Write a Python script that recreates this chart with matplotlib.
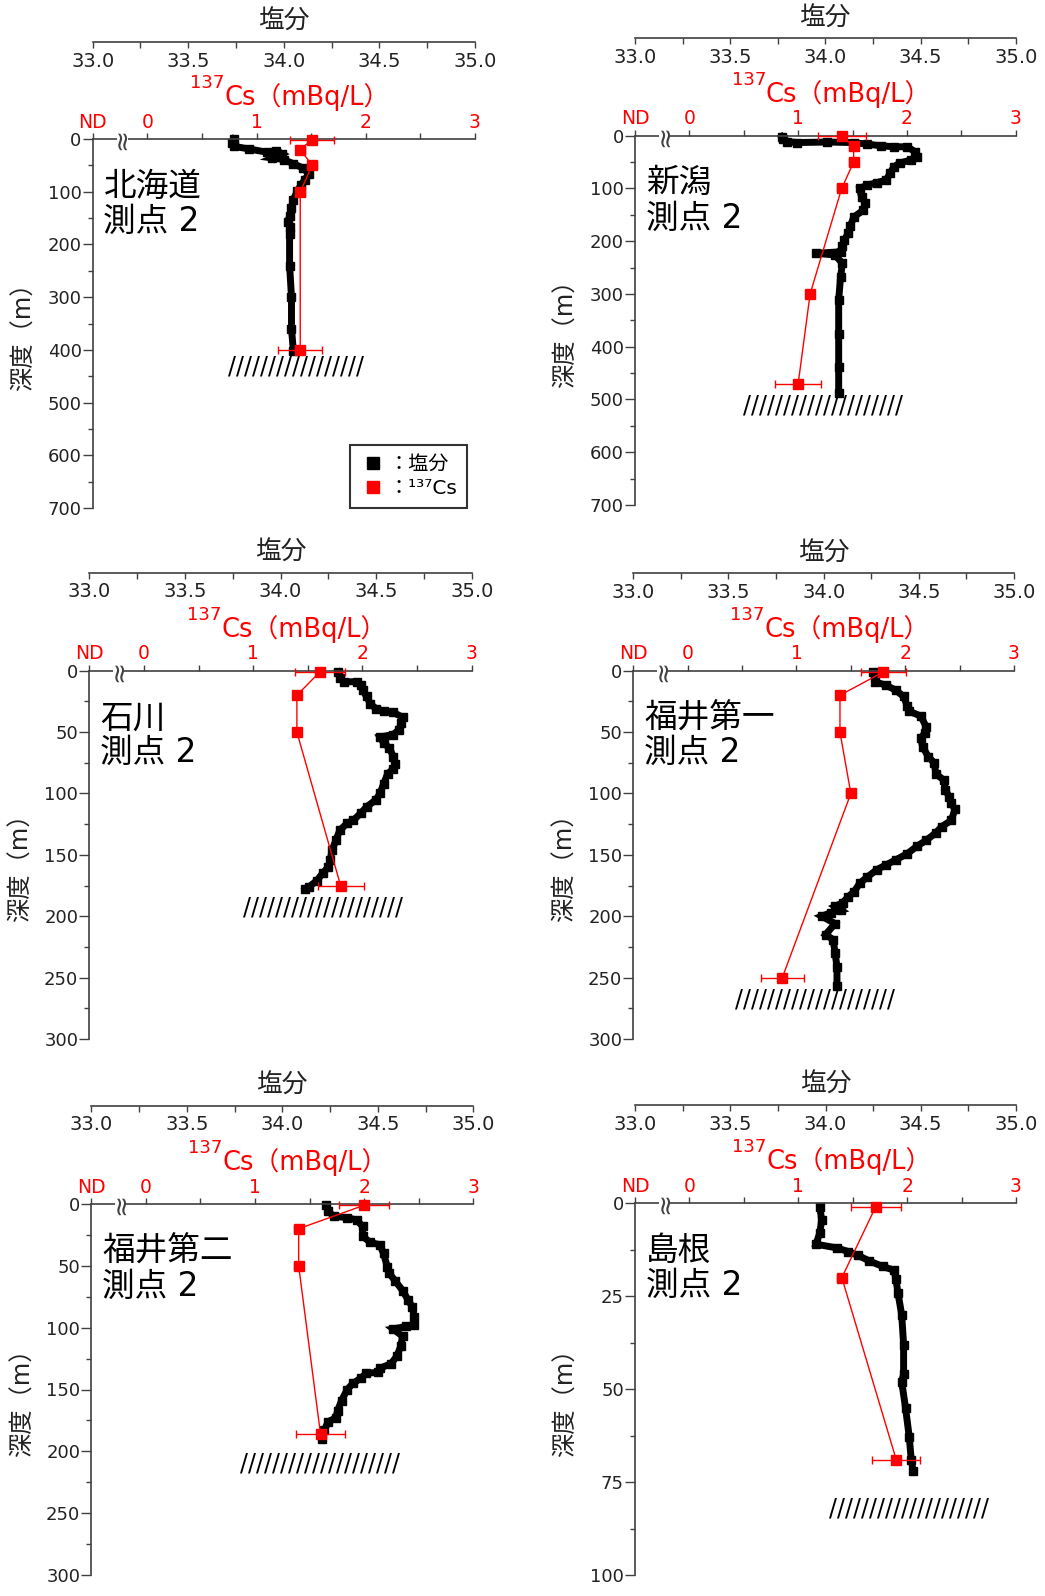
import matplotlib
matplotlib.use('Agg')
import matplotlib.pyplot as plt
from matplotlib.lines import Line2D
from matplotlib.patches import Rectangle
from matplotlib.ticker import MultipleLocator, FixedLocator, FormatStrFormatter
import matplotlib.transforms as mtransforms

plt.rcParams['font.family'] = ['DejaVu Sans', 'Noto Sans CJK JP']

# ---------------- data ----------------
station_names = ['北海道', '新潟', '石川', '福井第一', '福井第二', '島根']
depth_max = [700, 700, 300, 300, 300, 100]
depth_step = [100, 100, 50, 50, 50, 25]

# salinity profiles (depth m, salinity)
hok_sal_depth = [0, 7, 14, 19, 25, 22, 28, 36, 39, 47, 55, 66, 77, 87, 99, 115, 130, 147, 157, 166, 180, 240, 300, 360, 403]
hok_sal = [33.74, 33.73, 33.74, 33.82, 33.91, 33.96, 33.99, 33.94, 34.00, 34.05, 34.10, 34.13, 34.11, 34.09, 34.07, 34.05,
           34.04, 34.03, 34.02, 34.03, 34.03, 34.03, 34.04, 34.04, 34.05]

nii_sal_depth = [2, 7, 11, 13, 12, 13, 16, 19, 21, 21, 30, 40, 46, 52, 59, 71, 84, 89, 94, 100, 116, 128, 141, 154, 172,
                 185, 198, 210, 220, 223, 226, 242, 267, 311, 375, 438, 488]
nii_sal = [33.77, 33.78, 33.80, 33.85, 34.01, 34.15, 34.22, 34.29, 34.36, 34.43, 34.47, 34.48, 34.45, 34.39, 34.36, 34.34,
           34.32, 34.27, 34.22, 34.18, 34.19, 34.21, 34.20, 34.15, 34.13, 34.12, 34.10, 34.09, 34.08, 33.95, 34.05, 34.09,
           34.08, 34.07, 34.07, 34.07, 34.07]

ish_sal_depth = [1, 6, 9, 9, 12, 16, 21, 27, 31, 33, 34, 38, 43, 48, 52, 54, 59, 63, 70, 76, 80, 84, 92, 100, 105, 111,
                 116, 122, 124, 130, 138, 146, 154, 160, 165, 171, 176, 178]
ish_sal = [34.30, 34.31, 34.33, 34.40, 34.42, 34.43, 34.45, 34.47, 34.50, 34.54, 34.59, 34.64, 34.63, 34.62, 34.59, 34.52,
           34.54, 34.57, 34.59, 34.60, 34.59, 34.56, 34.54, 34.52, 34.50, 34.45, 34.42, 34.38, 34.35, 34.31, 34.29, 34.27,
           34.26, 34.25, 34.22, 34.19, 34.15, 34.13]

fk1_sal_depth = [1, 9, 12, 16, 21, 29, 33, 37, 46, 51, 55, 62, 70, 75, 84, 89, 97, 103, 108, 113, 122, 127, 132, 138, 143,
                 149, 154, 158, 162, 168, 173, 180, 184, 189, 192, 195, 197, 200, 206, 215, 219, 230, 241, 257]
fk1_sal = [34.26, 34.27, 34.33, 34.38, 34.42, 34.44, 34.45, 34.51, 34.54, 34.53, 34.51, 34.52, 34.55, 34.58, 34.59, 34.63,
           34.64, 34.66, 34.67, 34.69, 34.67, 34.62, 34.59, 34.54, 34.49, 34.44, 34.38, 34.33, 34.28, 34.23, 34.19, 34.16,
           34.13, 34.10, 34.06, 34.09, 34.04, 33.99, 34.06, 34.01, 34.05, 34.06, 34.07, 34.07]

fk2_sal_depth = [1, 6, 10, 11, 13, 18, 26, 31, 33, 40, 51, 56, 62, 70, 78, 83, 91, 98, 99, 101, 107, 115, 123, 129, 133,
                 136, 137, 141, 145, 150, 159, 167, 173, 176, 183, 190]
fk2_sal = [34.23, 34.24, 34.27, 34.34, 34.39, 34.42, 34.42, 34.46, 34.51, 34.53, 34.55, 34.56, 34.59, 34.63, 34.66, 34.68,
           34.69, 34.69, 34.65, 34.58, 34.63, 34.62, 34.60, 34.57, 34.51, 34.50, 34.44, 34.41, 34.37, 34.34, 34.31, 34.29,
           34.28, 34.24, 34.22, 34.21]

shi_sal_depth = [1, 4.5, 8, 11, 12, 13, 14, 15.5, 17, 18, 20.5, 24, 30, 38, 46, 48, 55, 63, 69, 72]
shi_sal = [33.97, 33.98, 33.97, 33.95, 34.06, 34.12, 34.17, 34.23, 34.30, 34.36, 34.37, 34.38, 34.40, 34.41, 34.41, 34.40,
           34.42, 34.44, 34.45, 34.46]

# 137Cs (depth m, mBq/L, error)
hok_cs_depth = [1, 20, 50, 100, 400]
hok_cs = [1.51, 1.40, 1.51, 1.40, 1.40]
hok_cs_err = [0.20, 0.04, 0.04, 0.04, 0.20]

nii_cs_depth = [1, 20, 50, 100, 300, 470]
nii_cs = [1.40, 1.51, 1.51, 1.40, 1.11, 1.00]
nii_cs_err = [0.22, 0.04, 0.04, 0.04, 0.04, 0.21]

ish_cs_depth = [1, 20, 50, 175]
ish_cs = [1.61, 1.40, 1.40, 1.80]
ish_cs_err = [0.23, 0.04, 0.04, 0.21]

fk1_cs_depth = [1, 20, 50, 100, 250]
fk1_cs = [1.80, 1.40, 1.40, 1.50, 0.87]
fk1_cs_err = [0.21, 0.04, 0.04, 0.04, 0.20]

fk2_cs_depth = [1, 20, 50, 186]
fk2_cs = [2.00, 1.40, 1.40, 1.60]
fk2_cs_err = [0.23, 0.04, 0.04, 0.22]

shi_cs_depth = [1, 20, 69]
shi_cs = [1.71, 1.40, 1.90]
shi_cs_err = [0.23, 0.04, 0.22]

cs_tick_vals = [-0.5, 0, 1, 2, 3]
cs_tick_labels = ['ND', '0', '1', '2', '3']

sal_depths = [hok_sal_depth, nii_sal_depth, ish_sal_depth, fk1_sal_depth, fk2_sal_depth, shi_sal_depth]
sals = [hok_sal, nii_sal, ish_sal, fk1_sal, fk2_sal, shi_sal]
cs_depths = [hok_cs_depth, nii_cs_depth, ish_cs_depth, fk1_cs_depth, fk2_cs_depth, shi_cs_depth]
css = [hok_cs, nii_cs, ish_cs, fk1_cs, fk2_cs, shi_cs]
cs_errs = [hok_cs_err, nii_cs_err, ish_cs_err, fk1_cs_err, fk2_cs_err, shi_cs_err]

# ---------------- layout (pixels) ----------------
W, H = 1045, 1596
# left, right, top (Cs axis), bottom, salinity axis y
boxes = [(92.7, 475, 139, 508, 42), (635, 1015.7, 135.7, 505, 38.3),
         (89.3, 471.7, 670.7, 1039, 572.7), (633.3, 1014, 670.7, 1039, 573.3),
         (91.3, 473.3, 1204, 1575, 1105.7), (635, 1016, 1203.3, 1575, 1105)]
# seabed hatch: left x (Cs units), depth, number of slashes
seabed = [(0.74, 432, 17), (0.49, 512, 20), (0.91, 193, 20), (0.435, 268, 20), (0.864, 210, 20), (1.286, 82, 20)]

AX_COL = '#404040'
TXT_COL = '#222222'
RED = '#ff0000'

fig = plt.figure(figsize=(W / 100, H / 100), dpi=100)
fig.patch.set_facecolor('white')
renderer = fig.canvas.get_renderer()

for i in range(6):
    l, r, t, b, ys = boxes[i]
    ax = fig.add_axes([l / W, 1 - b / H, (r - l) / W, (b - t) / H])
    axs = ax.twiny()

    # salinity profile on twin axes
    axs.set_xlim(33, 35)
    axs.plot(sals[i], sal_depths[i], color='black', lw=5, marker='s', ms=5.5,
             solid_joinstyle='miter', clip_on=False)
    axs.axis('off')

    ax.set_zorder(axs.get_zorder() + 1)
    ax.patch.set_visible(False)

    ax.set_xlim(-0.5, 3.0)
    ax.set_ylim(depth_max[i], 0)

    # Cs axis (top)
    ax.xaxis.tick_top()
    ax.set_xticks(cs_tick_vals)
    ax.set_xticklabels(cs_tick_labels)
    ax.xaxis.set_minor_locator(FixedLocator([0.5, 1.5, 2.5]))
    ax.tick_params(axis='x', which='both', top=True, bottom=False, direction='out', color=AX_COL,
                   labelcolor=RED, labelsize=13.5, length=4, width=1, pad=1.2)
    # depth axis
    ax.yaxis.set_major_locator(MultipleLocator(depth_step[i]))
    ax.yaxis.set_minor_locator(MultipleLocator(depth_step[i] / 2))
    ax.tick_params(axis='y', which='major', direction='out', length=7, width=1, color=AX_COL,
                   labelcolor=TXT_COL, labelsize=13, pad=1)
    ax.tick_params(axis='y', which='minor', direction='out', length=3.5, width=1, color=AX_COL)
    for s in ['right', 'bottom']:
        ax.spines[s].set_visible(False)
    for s in ['top', 'left']:
        ax.spines[s].set_color(AX_COL)
        ax.spines[s].set_linewidth(1.2)

    # axis break mark between ND and 0
    trans = mtransforms.blended_transform_factory(ax.transData, ax.transAxes)
    ax.add_patch(Rectangle((-0.28, 0.985), 0.1, 0.03, transform=trans, facecolor='white',
                           edgecolor='none', clip_on=False, zorder=5))
    ax.text(-0.23, 1.0, '≈', transform=trans, rotation=90, ha='center', va='center',
            fontsize=19, color=AX_COL, clip_on=False, zorder=6)

    # Cs data
    eb = ax.errorbar(css[i], cs_depths[i], xerr=cs_errs[i], fmt='-s', color=RED, ms=7.5, lw=1,
                     elinewidth=1, capsize=3, capthick=1, zorder=4)
    for art in eb.get_children():
        art.set_clip_on(False)
    eb.lines[0].set_clip_on(False)

    # seabed hatch
    hx, hd, hn = seabed[i]
    ax.text(hx, hd, '/' * hn, fontsize=17, ha='left', va='center', color='black')

    # station label
    ax.text(0.028, 0.917, station_names[i] + '\n測点 2', transform=ax.transAxes, ha='left', va='top',
            fontsize=23.5, linespacing=1.08, color='black')

    # Cs title: superscript 137 + main text, centered on the axis
    sup = ax.annotate('137', xy=(0.5, 1), xycoords='axes fraction', xytext=(0, 51),
                      textcoords='offset pixels', ha='left', va='baseline', fontsize=13, color=RED)
    main = ax.annotate('Cs（mBq/L）', xy=(0.5, 1), xycoords='axes fraction', xytext=(0, 34),
                       textcoords='offset pixels', ha='left', va='baseline', fontsize=18.5, color=RED)
    ws = sup.get_window_extent(renderer).width
    wm = main.get_window_extent(renderer).width
    x0 = -(ws + wm - 12) / 2
    sup.xyann = (x0, 51)
    main.xyann = (x0 + ws, 34)

    # depth label
    ax.annotate('深度（m）', xy=(0, 0.48), xycoords='axes fraction', xytext=(-69, 0),
                textcoords='offset pixels', ha='center', va='center', rotation=90, fontsize=17.5,
                color=TXT_COL)

    # salinity axis
    sx = fig.add_axes([l / W, 1 - ys / H, (r - l) / W, 0.00001])
    sx.set_xlim(33, 35)
    sx.xaxis.set_major_locator(MultipleLocator(0.5))
    sx.xaxis.set_minor_locator(MultipleLocator(0.25))
    sx.xaxis.set_major_formatter(FormatStrFormatter('%.1f'))
    sx.yaxis.set_visible(False)
    for s in ['top', 'left', 'right']:
        sx.spines[s].set_visible(False)
    sx.spines['bottom'].set_color(AX_COL)
    sx.spines['bottom'].set_linewidth(1.2)
    sx.patch.set_visible(False)
    sx.tick_params(axis='x', which='both', direction='out', length=4, width=1, color=AX_COL,
                   labelcolor=TXT_COL, labelsize=14, pad=3)
    sx.annotate('塩分', xy=(0.5, 1), xycoords='axes fraction', xytext=(0, 5),
                textcoords='offset points', ha='center', va='bottom', fontsize=18.5, color=TXT_COL)

    if i == 0:
        handles = [Line2D([], [], marker='s', color='black', ls='none', ms=9),
                   Line2D([], [], marker='s', color=RED, ls='none', ms=9)]
        leg = ax.legend(handles, ['：塩分', '：¹³⁷Cs'], loc='lower right', bbox_to_anchor=(0.98, 0.0),
                        borderaxespad=0, frameon=True, fancybox=False, edgecolor='black', fontsize=14.5,
                        handletextpad=0.1, borderpad=0.5, handlelength=1.3, labelspacing=0.25)
        leg.get_frame().set_linewidth(1.5)
        leg.set_zorder(10)

fig.savefig('out.png', dpi=100, facecolor='white')
